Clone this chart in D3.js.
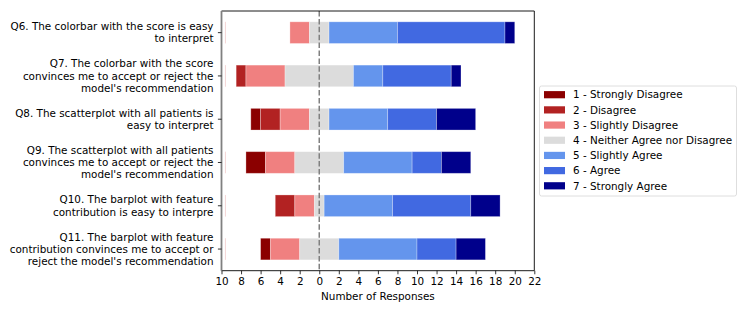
<!DOCTYPE html>
<html>
<head>
<meta charset="utf-8">
<script src="https://cdn.jsdelivr.net/npm/d3@7"></script>
<style>
  body { margin: 0; background: #fff; }
  text { font-family: "DejaVu Sans", sans-serif; fill: #000; }
</style>
</head>
<body>
<svg id="chart" width="747" height="314"></svg>
<script>
// questions, top to bottom
var questions = [
  ["Q6. The colorbar with the score is easy", "to interpret"],
  ["Q7. The colorbar with the score", "convinces me to accept or reject the", "model's recommendation"],
  ["Q8. The scatterplot with all patients is", "easy to interpret"],
  ["Q9. The scatterplot with all patients", "convinces me to accept or reject the", "model's recommendation"],
  ["Q10. The barplot with feature", "contribution is easy to interpre"],
  ["Q11. The barplot with feature", "contribution convinces me to accept or", "reject the model's recommendation"]
];

var categories = ["1 - Strongly Disagree", "2 - Disagree", "3 - Slightly Disagree",
                  "4 - Neither Agree nor Disagree", "5 - Slightly Agree", "6 - Agree",
                  "7 - Strongly Agree"];
var colors = ["#8b0000", "#b22222", "#f08080", "#dcdcdc", "#6495ed", "#4169e1", "#00008b"];

// responses per category, one value per question
var strongDis = [0, 0, 1, 2, 0, 1];
var dis       = [0, 1, 2, 0, 2, 0];
var slightDis = [2, 4, 3, 3, 2, 3];
var neutral   = [2, 7, 2, 5, 1, 4];
var slightAgr = [7, 3, 6, 7, 7, 8];
var agr       = [11, 7, 5, 3, 8, 4];
var strongAgr = [1, 1, 4, 3, 3, 3];
var series = [strongDis, dis, slightDis, neutral, slightAgr, agr, strongAgr];

// rows that show the faint padding edge at the left
var padEdge = [1, 1, 0, 1, 1, 1];

var xTicks = d3.range(-10, 23, 2);

var svg = d3.select("#chart");
var M = {left: 221.5, right: 534.3, top: 11, bottom: 270.7};
var FS = "10.4px";

var x = d3.scaleLinear().domain([-10, 22]).range([M.left, M.right]);
var y = d3.scaleBand().domain(d3.range(questions.length))
  .range([M.top, M.bottom]).paddingInner(0.5).paddingOuter(0.25);

// build segments
var segs = [];
questions.forEach(function(q, i) {
  var start = -(strongDis[i] + dis[i] + slightDis[i] + neutral[i] / 2);
  series.forEach(function(s, k) {
    segs.push({row: i, cat: k, x0: start, x1: start + s[i]});
    start += s[i];
  });
});

svg.append("g").selectAll("line.pad")
  .data(padEdge.map(function(v, i) { return {row: i, on: v}; })
        .filter(function(d) { return d.on; }))
  .enter().append("line")
  .attr("x1", x(-9.6)).attr("x2", x(-9.6))
  .attr("y1", function(d) { return y(d.row); })
  .attr("y2", function(d) { return y(d.row) + y.bandwidth(); })
  .attr("stroke", "#f3d6d6").attr("stroke-width", 1);

svg.append("g").selectAll("rect")
  .data(segs.filter(function(d) { return d.x1 > d.x0; }))
  .enter().append("rect")
  .attr("x", function(d) { return x(d.x0); })
  .attr("width", function(d) { return x(d.x1) - x(d.x0); })
  .attr("y", function(d) { return y(d.row); })
  .attr("height", y.bandwidth())
  .attr("fill", function(d) { return colors[d.cat]; })
  .attr("stroke", "rgba(255,255,255,0.35)")
  .attr("stroke-width", 0.8);

// zero line
svg.append("line")
  .attr("x1", x(0)).attr("x2", x(0))
  .attr("y1", M.top).attr("y2", M.bottom)
  .attr("stroke", "#808080").attr("stroke-width", 1.5)
  .attr("stroke-dasharray", "5.5,2.4");

// frame
svg.append("path")
  .attr("d", "M" + M.left + "," + M.bottom + "H" + M.right + "V" + M.top + "H" + M.left)
  .attr("fill", "none").attr("stroke", "#000").attr("stroke-width", 0.9);
svg.append("line")
  .attr("x1", M.left).attr("x2", M.left).attr("y1", M.top).attr("y2", M.bottom)
  .attr("stroke", "#808080").attr("stroke-width", 1.8);

// x axis
var xAxis = svg.append("g")
  .attr("transform", "translate(0," + M.bottom + ")")
  .call(d3.axisBottom(x).tickValues(xTicks).tickSize(3.6).tickPadding(3.3)
        .tickFormat(function(d) { return Math.abs(d); }));
xAxis.select(".domain").remove();
xAxis.selectAll("line").attr("stroke", "#000").attr("stroke-width", 0.8);
xAxis.selectAll("text").attr("font-size", FS).attr("font-family", "DejaVu Sans");

svg.append("text")
  .attr("x", (M.left + M.right) / 2).attr("y", 299.5)
  .attr("text-anchor", "middle").attr("font-size", FS)
  .text("Number of Responses");

// y axis
var yAxis = svg.append("g")
  .attr("transform", "translate(" + M.left + ",0)")
  .call(d3.axisLeft(y).tickSize(3.6).tickFormat(""));
yAxis.select(".domain").remove();
yAxis.selectAll("line").attr("stroke", "#000").attr("stroke-width", 0.8);

var lineH = 12.2;
var lab = svg.append("g").selectAll("text")
  .data(questions).enter().append("text")
  .attr("text-anchor", "end").attr("font-size", FS)
  .attr("y", function(d, i) {
    return y(i) + y.bandwidth() / 2 - (d.length - 1) * lineH / 2 + 3.7;
  });
lab.selectAll("tspan").data(function(d) { return d; }).enter().append("tspan")
  .attr("x", 213.5)
  .attr("dy", function(d, j) { return j ? lineH : 0; })
  .text(function(d) { return d; });

// legend
var leg = svg.append("g");
leg.append("rect")
  .attr("x", 539.5).attr("y", 86).attr("width", 197).attr("height", 110)
  .attr("rx", 2).attr("fill", "#fff").attr("stroke", "#d5d5d5").attr("stroke-width", 0.8);
var ly = d3.scaleLinear().domain([0, categories.length - 1]).range([94.7, 185.8]);
var item = leg.selectAll("g.item").data(categories).enter().append("g")
  .attr("transform", function(d, i) { return "translate(0," + ly(i) + ")"; });
item.append("rect")
  .attr("x", 544).attr("y", -3.6).attr("width", 21).attr("height", 7.2)
  .attr("fill", function(d, i) { return colors[i]; });
item.append("text")
  .attr("x", 573).attr("y", 3.7).attr("font-size", FS)
  .text(function(d) { return d; });
</script>
</body>
</html>
